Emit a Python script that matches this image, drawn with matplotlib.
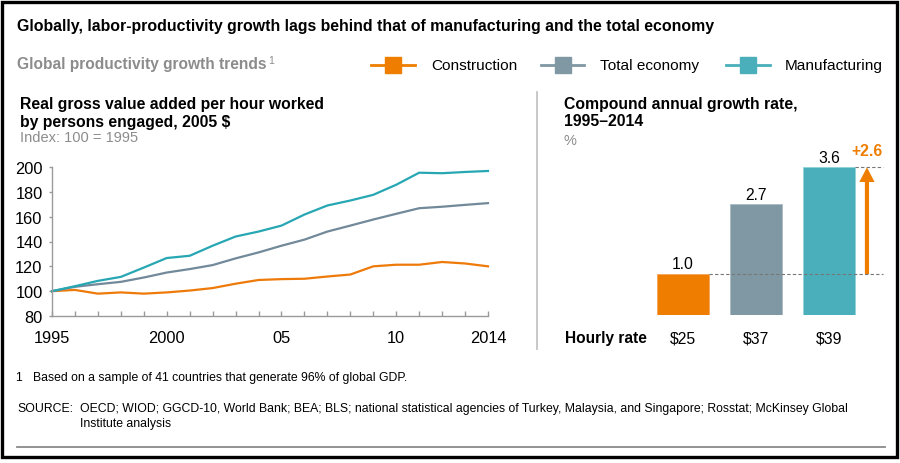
import matplotlib
matplotlib.use("Agg")
import matplotlib.pyplot as plt
from matplotlib.patches import Rectangle, FancyArrowPatch
from matplotlib.lines import Line2D

plt.rcParams['font.family'] = ['Liberation Sans', 'DejaVu Sans']

# ---------------- data ----------------
years = list(range(1995, 2015))
construction = [100, 101, 98, 99, 98, 99, 100.5, 102.5, 106, 109, 109.7, 110, 111.8, 113.4,
                120, 121.3, 121.3, 123.5, 122.3, 120]
total_economy = [100, 103.5, 105.6, 107.5, 111, 115, 117.8, 121, 126.4, 131.2, 136.6, 141.5,
                 148, 152.8, 157.7, 162.3, 166.8, 168, 169.5, 170.9]
manufacturing = [100, 104, 108.3, 111.5, 119, 126.7, 128.5, 136.6, 144, 148, 152.8, 161.7,
                 169, 173, 177.6, 185.7, 195.4, 195, 196, 196.8]
xtick_years = [1995, 2000, 2005, 2010, 2014]
xtick_labels = ["1995", "2000", "05", "10", "2014"]
yticks = [80, 100, 120, 140, 160, 180, 200]

bar_names = ["Construction", "Total economy", "Manufacturing"]
cagr = [1.0, 2.7, 3.6]
cagr_labels = ["1.0", "2.7", "3.6"]
hourly = ["$25", "$37", "$39"]
gap_label = "+2.6"

ORANGE = '#EE7D00'
GREY = '#7F98A3'
TEAL = '#4AAFBA'
LINE_COLORS = ['#EE7A0A', '#72899A', '#27A7B3']
BAR_COLORS = [ORANGE, GREY, TEAL]

W, H = 900, 464
fig = plt.figure(figsize=(9, 4.64), dpi=100)


def fx(x):
    return x / W


def fy(y):
    return 1 - y / H


def ftext(x, y, s, **kw):
    kw.setdefault('va', 'center')
    kw.setdefault('ha', 'left')
    fig.text(fx(x), fy(y), s, **kw)


# ---------------- frame ----------------
fig.add_artist(Rectangle((fx(2), fy(458)), fx(897) - fx(2), fy(3) - fy(458),
                         transform=fig.transFigure, fill=False, edgecolor='black', lw=2.4))
fig.add_artist(Line2D([fx(17), fx(885)], [fy(448), fy(448)], transform=fig.transFigure,
                      color='#8A8A8A', lw=1.3))
fig.add_artist(Line2D([fx(537), fx(537)], [fy(93), fy(350)], transform=fig.transFigure,
                      color='#C4C4C4', lw=1.3))

# ---------------- texts ----------------
ftext(17, 26, "Globally, labor-productivity growth lags behind that of manufacturing and the total economy",
      fontsize=11.4, fontweight='bold', color='black')
ftext(17, 65, "Global productivity growth trends", fontsize=11.2, fontweight='bold', color='#8C8C8C')
ftext(268, 61, "1", fontsize=7.5, color='#8C8C8C')
ftext(20, 105, "Real gross value added per hour worked", fontsize=11.3, fontweight='bold')
ftext(20, 122, "by persons engaged, 2005 $", fontsize=11.3, fontweight='bold')
ftext(20, 138, "Index: 100 = 1995", fontsize=10.5, color='#8C8C8C')
ftext(564, 104, "Compound annual growth rate,", fontsize=11.3, fontweight='bold')
ftext(564, 122, "1995\u20132014", fontsize=11.3, fontweight='bold')
ftext(564, 141, "%", fontsize=10.5, color='#8C8C8C')
ftext(565, 339, "Hourly rate", fontsize=11.2, fontweight='bold')

ftext(15, 378, "1", fontsize=8.8)
ftext(33, 378, "Based on a sample of 41 countries that generate 96% of global GDP.", fontsize=8.8)
ftext(17, 409, "SOURCE:", fontsize=8.8)
ftext(80, 409, "OECD; WIOD; GGCD-10, World Bank; BEA; BLS; national statistical agencies of Turkey, "
      "Malaysia, and Singapore; Rosstat; McKinsey Global", fontsize=8.8)
ftext(80, 424, "Institute analysis", fontsize=8.8)

# ---------------- legend ----------------
legend_x = [(371, 415, 431), (541, 584, 600), (726, 770, 785)]
for (x0, x1, xt), name, col in zip(legend_x, bar_names, BAR_COLORS):
    fig.add_artist(Line2D([fx(x0), fx(x1)], [fy(66), fy(66)], transform=fig.transFigure,
                          color=col, lw=2))
    fig.add_artist(Line2D([fx((x0 + x1) / 2)], [fy(66)], transform=fig.transFigure,
                          marker='s', markersize=11, color=col, lw=0))
    ftext(xt, 66, name, fontsize=11.1)

# ---------------- line chart ----------------
ax1 = fig.add_axes([fx(52), fy(317), fx(488) - fx(52), fy(168) - fy(317)])
for series, col in zip([construction, total_economy, manufacturing], LINE_COLORS):
    ax1.plot(years, series, color=col, lw=1.6, solid_joinstyle='round', clip_on=False)
ax1.set_xlim(1995, 2014)
ax1.set_ylim(80, 200)
ax1.set_yticks(yticks)
ax1.set_yticklabels([str(v) for v in yticks])
ax1.set_xticks(years)
ax1.set_xticklabels([xtick_labels[xtick_years.index(y)] if y in xtick_years else "" for y in years])
for s in ['top', 'right']:
    ax1.spines[s].set_visible(False)
for s in ['left', 'bottom']:
    ax1.spines[s].set_color('#9A9A9A')
    ax1.spines[s].set_linewidth(1.0)
ax1.tick_params(axis='y', direction='out', length=2.5, width=1, color='#9A9A9A', pad=4.3,
                labelsize=11.8)
ax1.tick_params(axis='x', direction='in', length=3.3, width=1, color='#9A9A9A', pad=10,
                labelsize=11.8)
ax1.patch.set_visible(False)

# ---------------- bar chart ----------------
ax2 = fig.add_axes([fx(624.6), fy(316), (3.6 * 73) / W, (4.3 * 41) / H])
ax2.set_xlim(-0.8, 2.8)
ax2.set_ylim(0, 4.3)
xs = [0, 1, 2]
ax2.bar(xs, cagr, width=0.71, color=BAR_COLORS, edgecolor=['#F6A55A', '#A9BBC4', '#8FD3DA'],
        linewidth=0.6)
for x, v, lab in zip(xs, cagr, cagr_labels):
    ax2.annotate(lab, (x, v), xytext=(0, 2), textcoords='offset points', ha='center',
                 va='bottom', fontsize=11.3)
for x, lab in zip(xs, hourly):
    ax2.text(x, -(339 - 316) / 41, lab, ha='center', va='center', fontsize=11.3, clip_on=False)

arrow_x = 2.52
ax2.plot([0.355, 2.74], [cagr[0], cagr[0]], color='#777777', lw=0.8, ls=(0, (3, 2)))
ax2.plot([2.355, 2.74], [cagr[2], cagr[2]], color='#777777', lw=0.8, ls=(0, (3, 2)))
arr = FancyArrowPatch((arrow_x, cagr[0]), (arrow_x, cagr[2]),
                      arrowstyle='simple,head_length=10.5,head_width=11,tail_width=3',
                      mutation_scale=1, shrinkA=0, shrinkB=0, color=ORANGE, lw=0)
ax2.add_patch(arr)
ax2.annotate(gap_label, (arrow_x, cagr[2]), xytext=(0, 7), textcoords='offset points',
             ha='center', va='bottom', fontsize=11.3, fontweight='bold', color=ORANGE)
ax2.axis('off')

fig.savefig('out.png', dpi=100)
